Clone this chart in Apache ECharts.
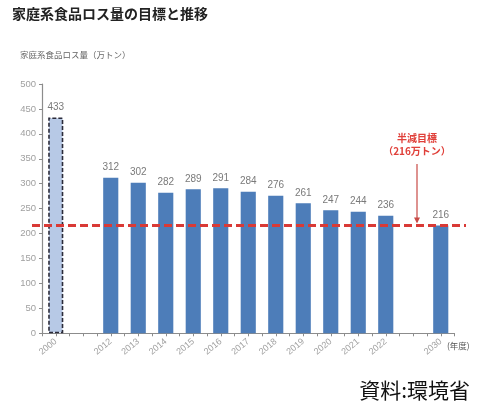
<!DOCTYPE html>
<html>
<head>
<meta charset="utf-8">
<script src="https://cdn.jsdelivr.net/npm/echarts@6/dist/echarts.min.js"></script>
<style>
html,body{margin:0;padding:0;background:#fff;}
#c{width:480px;height:410px;}
</style>
</head>
<body>
<div id="c"></div>
<script>
const categories = ['2000', '', '2012', '2013', '2014', '2015', '2016', '2017', '2018', '2019', '2020', '2021', '2022', '', '2030'];
const lossValues = [433, null, 312, 302, 282, 289, 291, 284, 276, 261, 247, 244, 236, null, 216];
const targetValue = 216;
const yTicks = { min: 0, max: 500, interval: 50 };

const FONT = '"Noto Sans CJK JP", "Noto Sans", sans-serif';
const chart = echarts.init(document.getElementById('c'));

const barData = lossValues.map((v, i) => {
  if (i === 0) {
    return {
      value: v,
      itemStyle: { color: '#b7c9e6', borderColor: '#2b2b3a', borderWidth: 1.6, borderType: [4, 2] }
    };
  }
  return v;
});

chart.setOption({
  animation: false,
  textStyle: { fontFamily: FONT },
  grid: { left: 42, right: 25.5, top: 84, bottom: 76.7, containLabel: false },
  xAxis: [{
    type: 'category',
    data: categories,
    axisLine: { lineStyle: { color: '#8c8c8c', width: 1.2 } },
    axisTick: { show: false },
    axisLabel: { color: '#a0a0a0', fontSize: 9, rotate: 40, margin: 7, interval: 0, fontFamily: 'Liberation Sans, Arial, sans-serif' }
  }, {
    type: 'value',
    position: 'bottom',
    min: 0, max: categories.length * 2, interval: 1,
    axisLine: { show: false },
    axisTick: { show: true, length: 3, lineStyle: { color: '#8c8c8c' } },
    axisLabel: { show: false },
    splitLine: { show: false }
  }],
  yAxis: {
    type: 'value',
    min: yTicks.min, max: yTicks.max, interval: yTicks.interval,
    axisLine: { show: true, lineStyle: { color: '#8c8c8c', width: 1.2 } },
    axisTick: { show: true, length: 3, lineStyle: { color: '#8c8c8c' } },
    axisLabel: { color: '#a0a0a0', fontSize: 9.5, margin: 6, fontFamily: 'Liberation Sans, Arial, sans-serif' },
    splitLine: { show: false }
  },
  series: [{
    type: 'bar',
    data: barData,
    barWidth: '55%',
    itemStyle: { color: '#4d7db9' },
    label: { show: true, position: 'top', distance: 5, color: '#7a7a7a', fontSize: 10, fontFamily: 'Liberation Sans, Arial, sans-serif' }
  }]
});

const yT = chart.convertToPixel({ yAxisIndex: 0 }, targetValue);
const arrowX = 417;
chart.setOption({
  graphic: [
    { type: 'text', left: 12, top: 7, style: { text: '家庭系食品ロス量の目標と推移', font: 'bold 14px ' + FONT, fill: '#222' } },
    { type: 'text', left: 20, top: 51, style: { text: '家庭系食品ロス量（万トン）', font: '8.5px ' + FONT, fill: '#666' } },
    { type: 'text', left: 447, top: 342, style: { text: '(年度)', font: '8.5px ' + FONT, fill: '#555' } },
    { type: 'text', right: 10, top: 380, style: { text: '資料:環境省', font: '21px ' + FONT, fill: '#111' } },
    { type: 'line', shape: { x1: 32, y1: yT, x2: 466, y2: yT }, style: { stroke: '#d93a36', lineWidth: 3, lineDash: [8, 4] }, z: 10 },
    { type: 'text', x: arrowX, y: 138, style: { text: '半減目標', font: 'bold 10px ' + FONT, fill: '#e0403a', align: 'center', verticalAlign: 'middle' } },
    { type: 'text', x: arrowX, y: 151, style: { text: '（216万トン）', font: 'bold 10px ' + FONT, fill: '#e0403a', align: 'center', verticalAlign: 'middle' } },
    { type: 'line', shape: { x1: arrowX, y1: 164, x2: arrowX, y2: yT - 4 }, style: { stroke: '#c84a46', lineWidth: 1.2 }, z: 11 },
    { type: 'polygon', shape: { points: [[arrowX - 3, yT - 8], [arrowX + 3, yT - 8], [arrowX, yT - 2]] }, style: { fill: '#c84a46' }, z: 11 }
  ]
});
</script>
</body>
</html>
